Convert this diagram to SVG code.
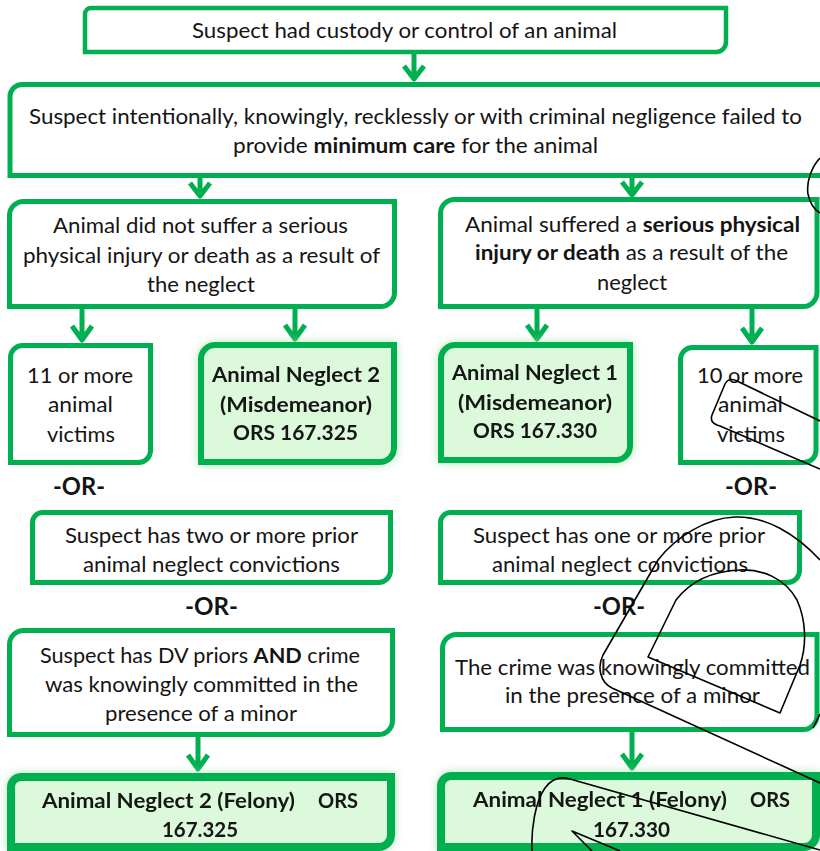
<svg xmlns="http://www.w3.org/2000/svg" width="820" height="851" viewBox="0 0 820 851">
<defs>
<style>
.bx{fill:#fff;stroke:#00b050;stroke-width:5}
.res{fill:#dcf9dc;stroke:#00b050;stroke-width:6}
.fel{fill:#dcf9dc;stroke:#00b050;stroke-width:8}
text{font-family:Lato,"Liberation Sans",sans-serif;font-size:21px;fill:#141414}
.b{font-weight:bold}
.or{font-weight:bold;font-size:24px}
#connectors path{fill:none;stroke:#00b050;stroke-width:5;stroke-linejoin:round}
#clip path{fill:none;stroke:#000;stroke-width:1.6;stroke-linejoin:round}
</style>
<filter id="glow" x="-10%" y="-20%" width="120%" height="140%">
<feGaussianBlur in="SourceAlpha" stdDeviation="5" result="bl"/>
<feFlood flood-color="#9fe3a8" flood-opacity="0.8"/>
<feComposite in2="bl" operator="in" result="g"/>
<feMerge><feMergeNode in="g"/><feMergeNode in="SourceGraphic"/></feMerge>
</filter>
</defs>
<rect width="820" height="851" fill="#fff"/>

<g id="connectors">
<path d="M414,54 V79 M404,66 L414,79 L424,66"/>
<path d="M200,178 V196 M190,183 L200,196 L210,183"/>
<path d="M632,178 V195 M622,182 L632,195 L642,182"/>
<path d="M82,309 V340 M72,326 L82,340 L92,326"/>
<path d="M295,309 V339 M285,325 L295,339 L305,325"/>
<path d="M537,309 V339 M527,325 L537,339 L547,325"/>
<path d="M752,309 V342 M742,328 L752,342 L762,328"/>
<path d="M198,737 V769 M188,755 L198,769 L208,755"/>
<path d="M632,732 V768 M622,754 L632,768 L642,754"/>
</g>

<g id="n1">
<path class="bx" style="stroke-width:4.5" d="M85,14 A6,6 0 0 1 91,8 H726 V42 A10,10 0 0 1 716,52 H85 Z"/>
<text x="192" y="38" textLength="425" lengthAdjust="spacingAndGlyphs">Suspect had custody or control of an animal</text>
</g>

<g id="n2">
<path class="bx" d="M10,96.5 A12,12 0 0 1 22,84.5 H830 V175.5 H10 Z"/>
<text x="29" y="124" textLength="773" lengthAdjust="spacingAndGlyphs">Suspect intentionally, knowingly, recklessly or with criminal negligence failed to</text>
<text x="233" y="153" textLength="365" lengthAdjust="spacingAndGlyphs">provide <tspan class="b">minimum care</tspan> for the animal</text>
</g>

<g id="n3">
<path class="bx" d="M9.5,215.5 A14,14 0 0 1 23.5,201.5 H394.5 V292.5 A14,14 0 0 1 380.5,306.5 H9.5 Z"/>
<text x="53" y="233" textLength="295" lengthAdjust="spacingAndGlyphs">Animal did not suffer a serious</text>
<text x="23" y="263" textLength="357" lengthAdjust="spacingAndGlyphs">physical injury or death as a result of</text>
<text x="147" y="292" textLength="108" lengthAdjust="spacingAndGlyphs">the neglect</text>
</g>

<g id="n4">
<path class="bx" d="M440.5,213.5 A14,14 0 0 1 454.5,199.5 H817 V292.5 A14,14 0 0 1 803,306.5 H440.5 Z"/>
<text x="465" y="232" textLength="335" lengthAdjust="spacingAndGlyphs">Animal suffered a <tspan class="b">serious physical</tspan></text>
<text x="475" y="260" textLength="313" lengthAdjust="spacingAndGlyphs"><tspan class="b">injury or death</tspan> as a result of the</text>
<text x="597" y="290" textLength="70" lengthAdjust="spacingAndGlyphs">neglect</text>
</g>

<g id="n5">
<path class="bx" d="M10.5,357.5 A12,12 0 0 1 22.5,345.5 H150.5 V450.5 A12,12 0 0 1 138.5,462.5 H10.5 Z"/>
<text x="27" y="383" textLength="106" lengthAdjust="spacingAndGlyphs">11 or more</text>
<text x="48" y="412" textLength="65" lengthAdjust="spacingAndGlyphs">animal</text>
<text x="47" y="442" textLength="68" lengthAdjust="spacingAndGlyphs">victims</text>
</g>

<g id="n6" filter="url(#glow)">
<path class="res" d="M201,359 A14,14 0 0 1 215,345 H394 V448 A14,14 0 0 1 380,462 H201 Z"/>
<text class="b" x="212" y="382" textLength="168" lengthAdjust="spacingAndGlyphs">Animal Neglect 2</text>
<text class="b" x="220" y="412" textLength="152" lengthAdjust="spacingAndGlyphs">(Misdemeanor)</text>
<text class="b" x="233" y="440" textLength="125" lengthAdjust="spacingAndGlyphs">ORS 167.325</text>
</g>

<g id="n7" filter="url(#glow)">
<path class="res" d="M441,359 A14,14 0 0 1 455,345 H630 V446 A14,14 0 0 1 616,460 H441 Z"/>
<text class="b" x="452" y="380" textLength="166" lengthAdjust="spacingAndGlyphs">Animal Neglect 1</text>
<text class="b" x="458" y="410" textLength="154" lengthAdjust="spacingAndGlyphs">(Misdemeanor)</text>
<text class="b" x="473" y="438" textLength="124" lengthAdjust="spacingAndGlyphs">ORS 167.330</text>
</g>

<g id="n8">
<path class="bx" d="M680.5,359.5 A12,12 0 0 1 692.5,347.5 H816 V450.5 A12,12 0 0 1 804,462.5 H680.5 Z"/>
<text x="697" y="383" textLength="106" lengthAdjust="spacingAndGlyphs">10 or more</text>
<text x="718" y="412" textLength="65" lengthAdjust="spacingAndGlyphs">animal</text>
<text x="717" y="442" textLength="68" lengthAdjust="spacingAndGlyphs">victims</text>
</g>

<g id="or1"><text class="or" x="53" y="495" textLength="52" lengthAdjust="spacingAndGlyphs">-OR-</text></g>
<g id="or2"><text class="or" x="725" y="495" textLength="52" lengthAdjust="spacingAndGlyphs">-OR-</text></g>

<g id="n9">
<path class="bx" d="M32.5,522.5 A10,10 0 0 1 42.5,512.5 H390.5 V570.5 A12,12 0 0 1 378.5,582.5 H32.5 Z"/>
<text x="65" y="543" textLength="293" lengthAdjust="spacingAndGlyphs">Suspect has two or more prior</text>
<text x="83" y="572" textLength="257" lengthAdjust="spacingAndGlyphs">animal neglect convictions</text>
</g>

<g id="n10">
<path class="bx" d="M440.5,522.5 A10,10 0 0 1 450.5,512.5 H799.5 V570.5 A12,12 0 0 1 787.5,582.5 H440.5 Z"/>
<text x="473" y="543" textLength="292" lengthAdjust="spacingAndGlyphs">Suspect has one or more prior</text>
<text x="492" y="572" textLength="256" lengthAdjust="spacingAndGlyphs">animal neglect convictions</text>
</g>

<g id="or3"><text class="or" x="185" y="615" textLength="53" lengthAdjust="spacingAndGlyphs">-OR-</text></g>
<g id="or4"><text class="or" x="593" y="615" textLength="52" lengthAdjust="spacingAndGlyphs">-OR-</text></g>

<g id="n11">
<path class="bx" d="M9.5,644.5 A14,14 0 0 1 23.5,630.5 H392.5 V720.5 A14,14 0 0 1 378.5,734.5 H9.5 Z"/>
<text x="40" y="663" textLength="320" lengthAdjust="spacingAndGlyphs">Suspect has DV priors <tspan class="b">AND</tspan> crime</text>
<text x="45" y="692" textLength="313" lengthAdjust="spacingAndGlyphs">was knowingly committed in the</text>
<text x="105" y="721" textLength="192" lengthAdjust="spacingAndGlyphs">presence of a minor</text>
</g>

<g id="n12">
<path class="bx" d="M442.5,648.5 A14,14 0 0 1 456.5,634.5 H817 V715.5 A14,14 0 0 1 803,729.5 H442.5 Z"/>
<text x="455" y="675" textLength="355" lengthAdjust="spacingAndGlyphs">The crime was knowingly committed</text>
<text x="505" y="703" textLength="255" lengthAdjust="spacingAndGlyphs">in the presence of a minor</text>
</g>

<g id="n13" filter="url(#glow)">
<path class="fel" d="M11,787 A10,10 0 0 1 21,777 H391 V835 A12,12 0 0 1 379,847 H11 Z"/>
<text class="b" x="42" y="808" textLength="253" lengthAdjust="spacingAndGlyphs">Animal Neglect 2 (Felony)</text>
<text class="b" x="318" y="808" textLength="40" lengthAdjust="spacingAndGlyphs">ORS</text>
<text class="b" x="162" y="837" textLength="76" lengthAdjust="spacingAndGlyphs">167.325</text>
</g>

<g id="n14" filter="url(#glow)">
<path class="fel" d="M441,786 A10,10 0 0 1 451,776 H816 V835 A12,12 0 0 1 804,847 H441 Z"/>
<text class="b" x="473" y="807" textLength="254" lengthAdjust="spacingAndGlyphs">Animal Neglect 1 (Felony)</text>
<text class="b" x="750" y="807" textLength="40" lengthAdjust="spacingAndGlyphs">ORS</text>
<text class="b" x="593" y="837" textLength="77" lengthAdjust="spacingAndGlyphs">167.330</text>
</g>

<g id="clip">
<path d="M820,158 C812,166 806,182 808,194 C810,204 815,210 820,213"/>
<path d="M820,421 L737,381 C731,378 727,380 725,384 L712,415 C710,421 713,424 720,426 L820,469"/>
<path d="M820,560 C795,533 765,516 735,517 C705,518 675,538 658,560 L603,655 C597,667 600,682 612,688 L820,783"/>
<path d="M648,657 L780,713 L800,665 C807,645 806,620 797,600 C785,578 762,569 740,570 C712,571 690,582 676,600 Z"/>
<path d="M813,728 L820,714"/>
<path d="M532,851 C531,830 535,802 545,788 C552,778 560,776 570,779 L820,850"/>
<path d="M592,851 L572,831 L620,851"/>
</g>
</svg>
